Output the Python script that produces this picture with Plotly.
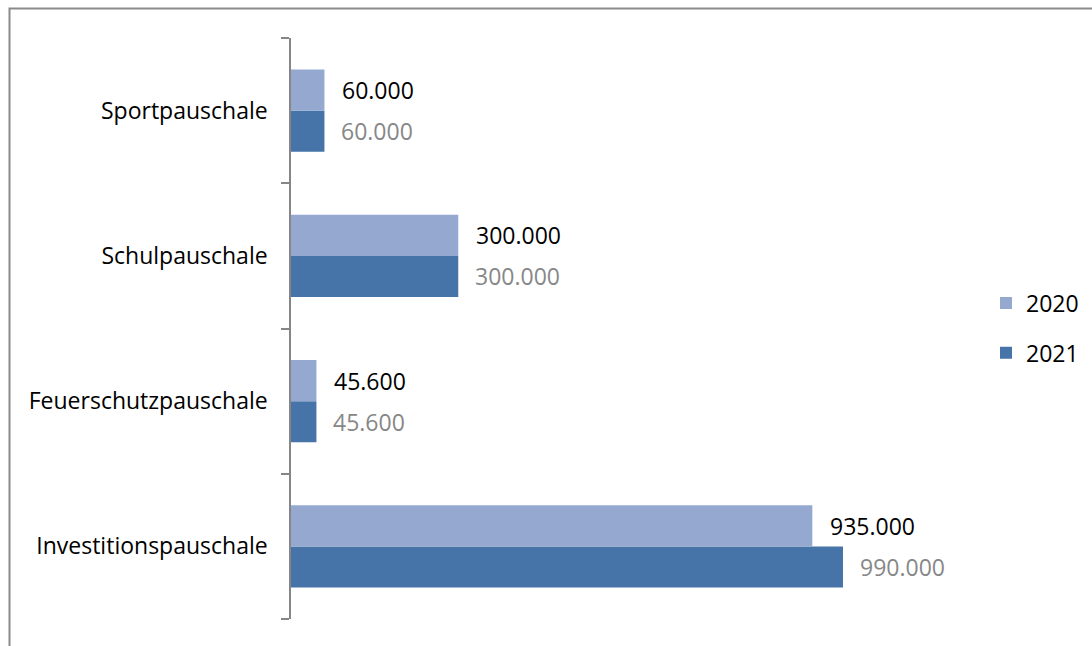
import plotly.graph_objects as go

categories = ["Investitionspauschale", "Feuerschutzpauschale", "Schulpauschale", "Sportpauschale"]
values_2020 = [935000, 45600, 300000, 60000]
values_2021 = [990000, 45600, 300000, 60000]
series_names = ["2020", "2021"]

col_2020 = "#95A9D0"
col_2021 = "#4674A9"

def fmt(v):
    return f"{v:,}".replace(",", ".")

FONT = "Open Sans"
FS = 23
fig = go.Figure()
fig.add_trace(go.Bar(y=categories, x=values_2021, name=series_names[1], orientation="h",
                     marker=dict(color=col_2021, line=dict(width=0)), legendgroup="b", legendrank=2))
fig.add_trace(go.Bar(y=categories, x=values_2020, name=series_names[0], orientation="h",
                     marker=dict(color=col_2020, line=dict(width=0)), legendgroup="a", legendrank=1))

ann = []
for c, v in zip(categories, values_2020):
    ann.append(dict(x=v, y=c, text=fmt(v), showarrow=False, xanchor="left", yanchor="middle",
                    xshift=16, yshift=20.5, font=dict(family=FONT, size=FS, color="#000000")))
for c, v in zip(categories, values_2021):
    ann.append(dict(x=v, y=c, text=fmt(v), showarrow=False, xanchor="left", yanchor="middle",
                    xshift=15, yshift=-20.5, font=dict(family=FONT, size=FS, color="#878787")))

W, H = 1092, 646
ml, mr, mt, mb = 291, 2, 38, 27
pw = W - ml - mr
ph = H - mt - mb
XMAX = 990000 * pw / 552.0

def px2x(px):
    return (px - ml) / pw

def px2y(py):
    return (H - mb - py) / ph

fig.update_layout(
    width=W, height=H,
    margin=dict(l=ml, r=mr, t=mt, b=mb, pad=0),
    paper_bgcolor="white", plot_bgcolor="white",
    barmode="group", bargap=0.435, bargroupgap=0,
    font=dict(family=FONT, size=FS, color="#000000"),
    xaxis=dict(range=[0, XMAX], visible=False, showgrid=False, zeroline=False),
    yaxis=dict(type="category", categoryorder="array", categoryarray=categories,
               showline=True, linecolor="#868686", linewidth=1.5,
               ticks="outside", tickson="boundaries", ticklen=8, tickcolor="#868686", tickwidth=1.5,
               showgrid=False, zeroline=False, ticklabelstandoff=17,
               tickfont=dict(family=FONT, size=FS, color="#000000")),
    legend=dict(x=px2x(986), y=px2y(328), xanchor="left", yanchor="middle",
                traceorder="grouped", tracegroupgap=17,
                font=dict(family=FONT, size=FS, color="#000000"),
                bgcolor="rgba(0,0,0,0)", itemwidth=30),
    annotations=ann,
    shapes=[dict(type="rect", xref="paper", yref="paper",
                 x0=px2x(9.5), x1=px2x(1110), y0=px2y(670), y1=px2y(8.5),
                 line=dict(color="#8A8A8A", width=2), fillcolor="rgba(0,0,0,0)", layer="below")],
    showlegend=True,
)

fig.write_html("out.html")
